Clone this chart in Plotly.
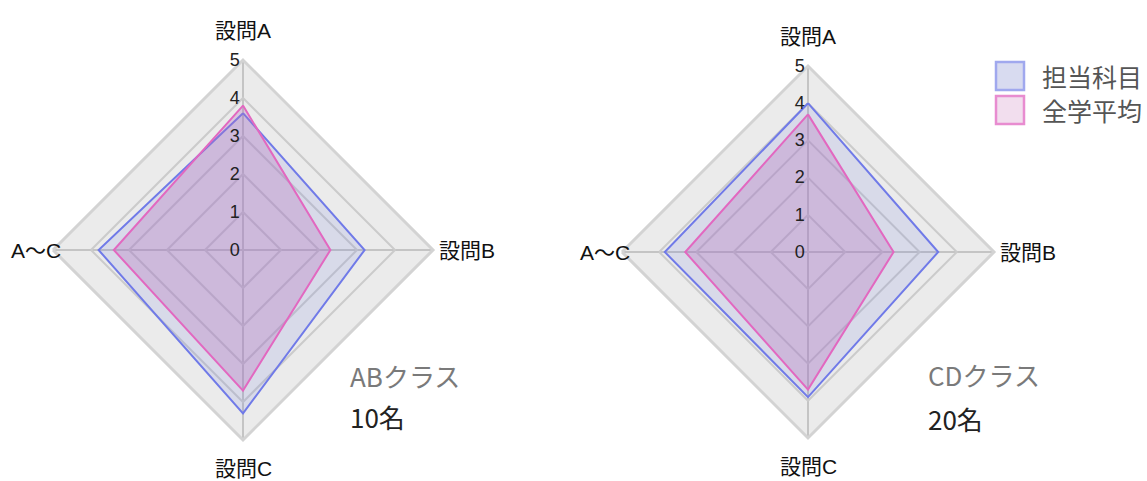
import plotly.graph_objects as go

# Question categories (clockwise from the top)
categories = ["設問A", "設問B", "設問C", "A〜C"]

# AB class (10 students)
ab_subject = [3.6, 3.2, 4.3, 3.8]
ab_school = [3.8, 2.3, 3.7, 3.4]

# CD class (20 students)
cd_subject = [4.0, 3.5, 3.9, 3.85]
cd_school = [3.7, 2.3, 3.7, 3.3]

series_names = ["担当科目", "全学平均"]
class_labels = ["ABクラス", "CDクラス"]
class_counts = ["10名", "20名"]

radial_ticks = [0, 1, 2, 3, 4, 5]

BLUE_LINE = "rgb(112,122,232)"
BLUE_FILL = "rgba(110,120,220,0.15)"
PINK_LINE = "rgb(226,104,192)"
PINK_FILL = "rgba(180,108,190,0.30)"

LEGEND_FILLS = ["rgb(216,219,240)", "rgb(242,222,238)"]
LEGEND_LINES = ["rgb(160,168,238)", "rgb(232,140,208)"]

LABEL_FONT = "Liberation Sans, Arial, Noto Sans CJK JP, sans-serif"
JP_FONT = "Noto Sans CJK JP, sans-serif"

W, H = 1147, 481


def closed(vals):
    return list(vals) + [vals[0]]


def domain(cx, cy, rad):
    yb = H - cy
    return dict(x=[(cx - rad) / W, (cx + rad) / W],
                y=[(yb - rad) / H, (yb + rad) / H])


def polar_layout(dom):
    return dict(
        domain=dom,
        gridshape="linear",
        bgcolor="#ebebeb",
        radialaxis=dict(
            range=[0, 5], tickvals=radial_ticks,
            angle=90, tickangle=90, side="counterclockwise",
            showline=False, gridcolor="#cbcbcb", gridwidth=1.5,
            tickfont=dict(family=LABEL_FONT, size=18, color="#222"),
            ticks="",
        ),
        angularaxis=dict(
            categoryorder="array", categoryarray=categories,
            direction="clockwise", rotation=90,
            showline=True, linecolor="#d3d3d3", linewidth=3,
            gridcolor="#c4c4c4", gridwidth=1.5,
            showticklabels=False, ticks="",
        ),
    )


fig = go.Figure()

# (subplot, centre x, centre y, radius in px, series)
charts = [
    ("polar", 243, 250, 190, ab_subject, ab_school),
    ("polar2", 808, 252, 186, cd_subject, cd_school),
]

layout_polars = {}
for subplot, cx, cy, rad, subj, school in charts:
    fig.add_trace(go.Scatterpolar(
        r=closed(subj), theta=closed(categories), subplot=subplot,
        mode="lines", fill="toself", fillcolor=BLUE_FILL,
        line=dict(color=BLUE_LINE, width=2),
        name=series_names[0], showlegend=False, hoverinfo="skip",
    ))
    fig.add_trace(go.Scatterpolar(
        r=closed(school), theta=closed(categories), subplot=subplot,
        mode="lines", fill="toself", fillcolor=PINK_FILL,
        line=dict(color=PINK_LINE, width=2),
        name=series_names[1], showlegend=False, hoverinfo="skip",
    ))
    layout_polars[subplot] = polar_layout(domain(cx, cy, rad))

    # Category labels just outside each corner of the diamond
    label_spots = [
        (cx, cy - rad - 30, "center", "middle"),
        (cx + rad + 4, cy, "left", "middle"),
        (cx, cy + rad + 28, "center", "middle"),
        (cx - rad + 10, cy, "right", "middle"),
    ]
    for cat, (lx, ly, xa, ya) in zip(categories, label_spots):
        fig.add_annotation(x=lx / W, y=1 - ly / H, xref="paper", yref="paper",
                           text=cat, showarrow=False, xanchor=xa, yanchor=ya,
                           font=dict(family=LABEL_FONT, size=21, color="#111"))

fig.update_layout(
    width=W, height=H,
    margin=dict(l=0, r=0, t=0, b=0),
    paper_bgcolor="white", plot_bgcolor="white",
    showlegend=False,
    **layout_polars,
)

# Legend: square swatches with labels in the top-right corner
for i, name in enumerate(series_names):
    top = 62 + i * 34
    fig.add_shape(type="rect", xref="paper", yref="paper",
                  x0=996 / W, x1=1024 / W,
                  y0=1 - (top + 28) / H, y1=1 - top / H,
                  fillcolor=LEGEND_FILLS[i],
                  line=dict(color=LEGEND_LINES[i], width=2.5))
    fig.add_annotation(x=1040 / W, y=1 - (top + 14) / H, xref="paper", yref="paper",
                       text=name, showarrow=False, xanchor="left", yanchor="middle",
                       font=dict(family=JP_FONT, size=25, color="#555"))

ann_pos = [(348, 375, 416), (926, 374, 418)]
for (x, y1, y2), lab, cnt in zip(ann_pos, class_labels, class_counts):
    fig.add_annotation(x=x / W, y=1 - y1 / H, xref="paper", yref="paper",
                       text=lab, showarrow=False, xanchor="left", yanchor="middle",
                       font=dict(family=JP_FONT, size=26, color="#7a7a7a"))
    fig.add_annotation(x=x / W, y=1 - y2 / H, xref="paper", yref="paper",
                       text=cnt, showarrow=False, xanchor="left", yanchor="middle",
                       font=dict(family=JP_FONT, size=26, color="#222"))

fig.write_html("out.html")
